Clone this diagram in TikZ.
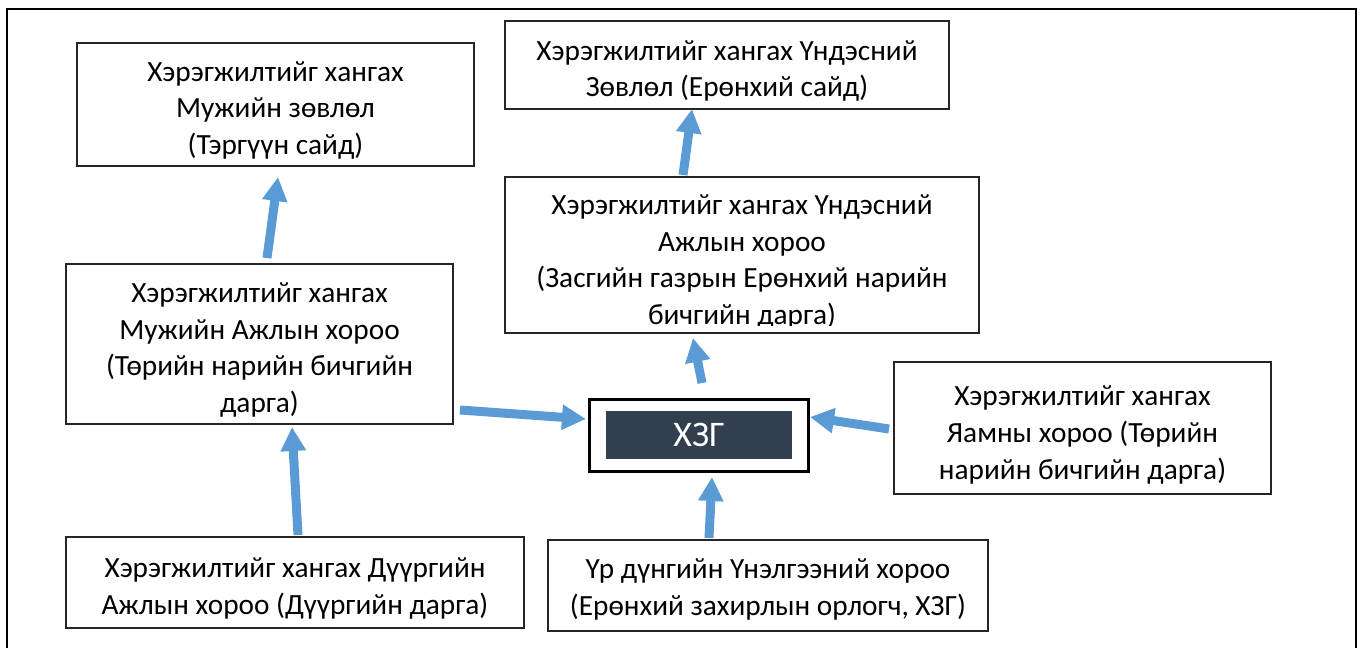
\documentclass[tikz,border=0pt]{standalone}
\usepackage{fontspec}
\setmainfont{Carlito}
\usetikzlibrary{arrows.meta}
\definecolor{arrowblue}{HTML}{5B9BD5}
\definecolor{darknavy}{HTML}{323F4F}
\begin{document}
\begin{tikzpicture}[x=1pt,y=-1pt,
  box/.style={draw=black!85, line width=1.3pt, inner sep=0pt},
  boxtext/.style={inner sep=0pt, align=center, yshift=-6pt,
    font=\fontsize{29.3}{36.7}\selectfont},
  flow/.style={draw=arrowblue, line width=9pt, -{Triangle[length=24pt,width=24pt]}}]
\useasboundingbox (0,0) rectangle (1360,648);
\draw[line width=2.2pt, line join=miter] (7,648) -- (7,9) -- (1356,9) -- (1356,648);

\node[box, minimum width=397pt, minimum height=123pt] (A) at (275.5,104.5) {};
\node[boxtext] (At) at (A.center)
  {Хэрэгжилтийг хангах\\Мужийн зөвлөл\\(Тэргүүн сайд)};
\node[box, minimum width=444pt, minimum height=88pt] (B) at (727,65) {};
\node[boxtext] (Bt) at (B.center)
  {Хэрэгжилтийг хангах Үндэсний\\Зөвлөл (Ерөнхий сайд)};
\begin{scope}
  \clip (505,177) rectangle (979,325);
  \node[boxtext, yshift=4pt] (Ct) at (742,260)
    {Хэрэгжилтийг хангах Үндэсний\\Ажлын хороо\\(Засгийн газрын Ерөнхий нарийн\\бичгийн дарга)};
\end{scope}
\node[box, minimum width=474pt, minimum height=156pt] (C) at (742,255) {};
\node[box, minimum width=387pt, minimum height=160pt] (D) at (259.5,344) {};
\node[boxtext] (Dt) at (D.center)
  {Хэрэгжилтийг хангах\\Мужийн Ажлын хороо\\(Төрийн нарийн бичгийн\\дарга)};
\node[box, minimum width=377pt, minimum height=132pt] (E) at (1082.5,428) {};
\node[boxtext, yshift=-1pt] (Et) at (E.center)
  {Хэрэгжилтийг хангах\\Яамны хороо (Төрийн\\нарийн бичгийн дарга)};
\node[box, minimum width=458pt, minimum height=91pt] (F) at (295,582.5) {};
\node[boxtext] (Ft) at (F.center)
  {Хэрэгжилтийг хангах Дүүргийн\\Ажлын хороо (Дүүргийн дарга)};
\node[box, minimum width=440pt, minimum height=91pt] (G) at (768,585.5) {};
\node[boxtext, yshift=2pt] (Gt) at (G.center)
  {Үр дүнгийн Үнэлгээний хороо\\(Ерөнхий захирлын орлогч, ХЗГ)};
\node[draw=black, line width=3pt, minimum width=219pt, minimum height=72pt, inner sep=0pt] (X) at (698.5,435) {};
\node[fill=darknavy, text=white, minimum width=186pt, minimum height=48pt, inner sep=0pt,
  font=\fontsize{36}{40}\selectfont] (Xi) at (699,435) {ХЗГ};

\coordinate (a1s) at (267,258); \coordinate (a1e) at (278,177);
\coordinate (a2s) at (298,535); \coordinate (a2e) at (292,427);
\coordinate (a3s) at (460,410); \coordinate (a3e) at (586,419);
\coordinate (a4s) at (702,383); \coordinate (a4e) at (693,338);
\coordinate (a5s) at (683,175); \coordinate (a5e) at (692,109);
\coordinate (a6s) at (709,538); \coordinate (a6e) at (712,477);
\coordinate (a7s) at (889,429); \coordinate (a7e) at (810,417);
\draw[flow] (a1s) -- (a1e);
\draw[flow] (a2s) -- (a2e);
\draw[flow] (a3s) -- (a3e);
\draw[flow] (a4s) -- (a4e);
\draw[flow] (a5s) -- (a5e);
\draw[flow] (a6s) -- (a6e);
\draw[flow] (a7s) -- (a7e);
\end{tikzpicture}
\end{document}
